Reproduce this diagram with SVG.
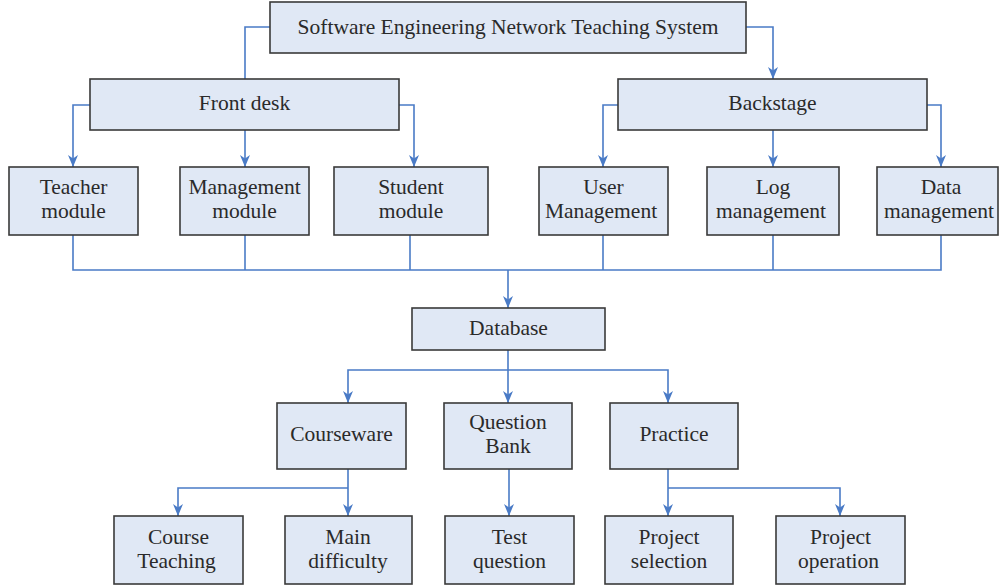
<svg xmlns="http://www.w3.org/2000/svg" width="999" height="588" viewBox="0 0 999 588">
  <style>
    .box rect { fill: #e0e8f5; stroke: #3a3a3a; stroke-width: 1.6; }
    .box text { font-family: "Liberation Serif", "Times New Roman", serif; font-size: 21.5px; fill: #2a2a2a; text-anchor: middle; }
    .links path { fill: none; stroke: #4a7bc6; stroke-width: 1.6; }
    .links path.arrow { marker-end: url(#head); }
  </style>
  <defs>
    <marker id="head" viewBox="0 0 12 10" refX="12" refY="5" markerWidth="12" markerHeight="10" markerUnits="userSpaceOnUse" orient="auto">
      <path d="M0,0 L12,5 L0,10 L3.5,5 Z" fill="#4a7bc6"/>
    </marker>
  </defs>
  <rect width="999" height="588" fill="#ffffff"/>

  <!-- connectors -->
  <g class="links">
    <!-- root to front desk / backstage -->
    <path d="M270,27 H245 V79"/>
    <path class="arrow" d="M746,27 H773 V79"/>
    <!-- front desk children -->
    <path class="arrow" d="M90,105 H73 V167"/>
    <path class="arrow" d="M245,130 V167"/>
    <path class="arrow" d="M399,105 H414 V167"/>
    <!-- backstage children -->
    <path class="arrow" d="M618,105 H603 V167"/>
    <path class="arrow" d="M773,130 V167"/>
    <path class="arrow" d="M927,105 H941 V167"/>
    <!-- modules merge into database -->
    <path d="M73,235 V270 H941 V235"/>
    <path d="M245,235 V270"/>
    <path d="M410,235 V270"/>
    <path d="M603,235 V270"/>
    <path d="M773,235 V270"/>
    <path class="arrow" d="M508,270 V308"/>
    <!-- database children -->
    <path d="M508,350 V370"/>
    <path class="arrow" d="M508,370 H348 V403"/>
    <path class="arrow" d="M508,370 V403"/>
    <path class="arrow" d="M508,370 H668 V403"/>
    <!-- courseware children -->
    <path class="arrow" d="M348,469 V516"/>
    <path class="arrow" d="M348,488 H178 V516"/>
    <!-- question bank child -->
    <path class="arrow" d="M509,469 V516"/>
    <!-- practice children -->
    <path class="arrow" d="M668,469 V516"/>
    <path class="arrow" d="M668,488 H840 V516"/>
  </g>

  <g id="root" class="box">
    <rect x="270" y="2" width="476" height="51"/>
    <text x="508" y="34">Software Engineering Network Teaching System</text>
  </g>
  <g id="front-desk" class="box">
    <rect x="90" y="79" width="309" height="51"/>
    <text x="244.5" y="110">Front desk</text>
  </g>
  <g id="backstage" class="box">
    <rect x="618" y="79" width="309" height="51"/>
    <text x="772.5" y="110">Backstage</text>
  </g>

  <g id="teacher-module" class="box">
    <rect x="9" y="167" width="129" height="68"/>
    <text x="73.5" y="194">Teacher</text>
    <text x="73.5" y="218">module</text>
  </g>
  <g id="management-module" class="box">
    <rect x="180" y="167" width="129" height="68"/>
    <text x="244.5" y="194">Management</text>
    <text x="244.5" y="218">module</text>
  </g>
  <g id="student-module" class="box">
    <rect x="334" y="167" width="154" height="68"/>
    <text x="411" y="194">Student</text>
    <text x="411" y="218">module</text>
  </g>
  <g id="user-management" class="box">
    <rect x="539" y="167" width="129" height="68"/>
    <text x="603.5" y="194">User</text>
    <text x="601" y="218">Management</text>
  </g>
  <g id="log-management" class="box">
    <rect x="707" y="167" width="132" height="68"/>
    <text x="773" y="194">Log</text>
    <text x="771" y="218">management</text>
  </g>
  <g id="data-management" class="box">
    <rect x="877" y="167" width="121" height="68"/>
    <text x="941" y="194">Data</text>
    <text x="939" y="218">management</text>
  </g>

  <g id="database" class="box">
    <rect x="412" y="308" width="193" height="42"/>
    <text x="508.5" y="335">Database</text>
  </g>

  <g id="courseware" class="box">
    <rect x="277" y="403" width="129" height="66"/>
    <text x="341.5" y="441">Courseware</text>
  </g>
  <g id="question-bank" class="box">
    <rect x="444" y="403" width="128" height="66"/>
    <text x="508" y="429">Question</text>
    <text x="508" y="453">Bank</text>
  </g>
  <g id="practice" class="box">
    <rect x="610" y="403" width="128" height="66"/>
    <text x="674" y="441">Practice</text>
  </g>

  <g id="course-teaching" class="box">
    <rect x="114" y="516" width="129" height="68"/>
    <text x="178.5" y="544">Course</text>
    <text x="176.5" y="568">Teaching</text>
  </g>
  <g id="main-difficulty" class="box">
    <rect x="285" y="516" width="127" height="68"/>
    <text x="348" y="544">Main</text>
    <text x="348" y="568">difficulty</text>
  </g>
  <g id="test-question" class="box">
    <rect x="445" y="516" width="129" height="68"/>
    <text x="509.5" y="544">Test</text>
    <text x="509.5" y="568">question</text>
  </g>
  <g id="project-selection" class="box">
    <rect x="605" y="516" width="128" height="68"/>
    <text x="669" y="544">Project</text>
    <text x="669" y="568">selection</text>
  </g>
  <g id="project-operation" class="box">
    <rect x="776" y="516" width="129" height="68"/>
    <text x="840.5" y="544">Project</text>
    <text x="838.5" y="568">operation</text>
  </g>
</svg>
